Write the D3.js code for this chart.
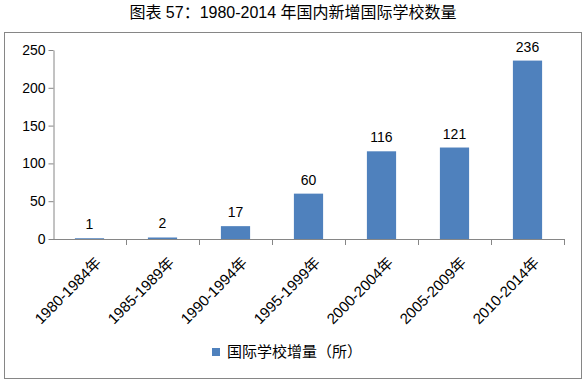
<!DOCTYPE html>
<html>
<head>
<meta charset="utf-8">
<script src="https://cdn.jsdelivr.net/npm/d3@7"></script>
<style>
  body { margin: 0; background: #fff; }
  text { font-family: "Liberation Sans", "Noto Sans CJK SC", sans-serif; fill: #000; }
</style>
</head>
<body>
<svg id="chart" width="585" height="385"></svg>
<script>
var categories = ["1980-1984年", "1985-1989年", "1990-1994年", "1995-1999年", "2000-2004年", "2005-2009年", "2010-2014年"];
var values = [1, 2, 17, 60, 116, 121, 236];
var yTicks = [0, 50, 100, 150, 200, 250];
var seriesName = "国际学校增量（所）";
var title = "图表 57：1980-2014 年国内新增国际学校数量";

var barColor = "#4f81bd";
var axisColor = "#868686";

var svg = d3.select("#chart");

// title above the frame
svg.append("text")
   .attr("x", 293)
   .attr("y", 18)
   .attr("text-anchor", "middle")
   .style("font-size", "16px")
   .text(title);

// chart frame
svg.append("rect")
   .attr("x", 4.5).attr("y", 32.5)
   .attr("width", 577).attr("height", 346)
   .attr("fill", "none")
   .attr("stroke", axisColor);

var xScale = d3.scaleBand()
               .domain(categories)
               .range([53, 564])
               .paddingInner(0.6)
               .paddingOuter(0.3);

var yScale = d3.scaleLinear()
               .domain([0, 250])
               .range([239, 50]);

// y axis
var yAxis = d3.axisLeft(yScale)
              .tickValues(yTicks)
              .tickSize(5)
              .tickSizeOuter(0);

var gy = svg.append("g")
            .attr("transform", "translate(53.5,0)")
            .call(yAxis);
gy.select(".domain").attr("stroke", axisColor);
gy.selectAll(".tick line").attr("stroke", axisColor);
gy.selectAll(".tick text")
  .attr("x", -8)
  .style("font-size", "14px")
  .attr("fill", "#000");

// bars
svg.append("g").selectAll("rect")
   .data(values)
   .enter().append("rect")
   .attr("x", function(d, i){ return xScale(categories[i]); })
   .attr("y", function(d){ return yScale(d); })
   .attr("width", xScale.bandwidth())
   .attr("height", function(d){ return yScale(0) - yScale(d); })
   .attr("fill", barColor);

// value labels
svg.append("g").selectAll("text")
   .data(values)
   .enter().append("text")
   .attr("x", function(d, i){ return xScale(categories[i]) + xScale.bandwidth() / 2; })
   .attr("y", function(d){ return yScale(d) - 9; })
   .attr("text-anchor", "middle")
   .style("font-size", "14px")
   .text(function(d){ return d; });

// x axis: line with ticks between categories
var boundaries = d3.range(categories.length + 1).map(function(i){ return 53 + i * (511 / categories.length); });

svg.append("line")
   .attr("x1", 53).attr("x2", 564)
   .attr("y1", 239.5).attr("y2", 239.5)
   .attr("stroke", axisColor);

svg.append("g").selectAll("line")
   .data(boundaries.slice(1))
   .enter().append("line")
   .attr("x1", function(d){ return Math.round(d) + 0.5; })
   .attr("x2", function(d){ return Math.round(d) + 0.5; })
   .attr("y1", 239).attr("y2", 245)
   .attr("stroke", axisColor);

// rotated category labels
svg.append("g").selectAll("text")
   .data(categories)
   .enter().append("text")
   .attr("transform", function(d){
     var cx = xScale(d) + xScale.bandwidth() / 2 + 9;
     return "translate(" + cx + ",260) rotate(-45)";
   })
   .attr("text-anchor", "end")
   .attr("dy", "0.35em")
   .style("font-size", "15px")
   .text(function(d){ return d; });

// legend
var legend = svg.append("g").attr("transform", "translate(212,348)");
legend.append("rect")
      .attr("width", 8).attr("height", 8)
      .attr("fill", barColor);
legend.append("text")
      .attr("x", 15).attr("y", 4)
      .attr("dy", "0.35em")
      .style("font-size", "15px")
      .text(seriesName);
</script>
</body>
</html>
